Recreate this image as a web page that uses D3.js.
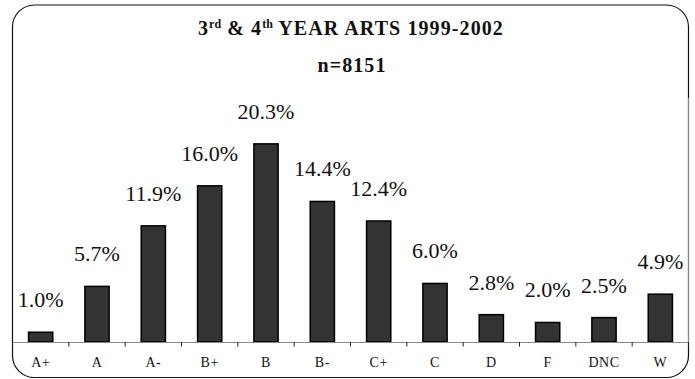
<!DOCTYPE html>
<html>
<head>
<meta charset="utf-8">
<script src="https://cdn.jsdelivr.net/npm/d3@7"></script>
<style>
  html, body { margin: 0; padding: 0; background: #fff; }
  svg { display: block; }
</style>
</head>
<body>
<svg id="chart" width="695" height="379"></svg>
<script>
// Grade distribution, 3rd & 4th year Arts, 1999-2002 (n=8151)
const grades = ["A+", "A", "A-", "B+", "B", "B-", "C+", "C", "D", "F", "DNC", "W"];
const percents = [1.0, 5.7, 11.9, 16.0, 20.3, 14.4, 12.4, 6.0, 2.8, 2.0, 2.5, 4.9];
const yDomain = [0, 25];

const data = grades.map((g, i) => ({ grade: g, value: percents[i] }));

const svg = d3.select("#chart");
const serif = '"Liberation Serif"';

// rounded frame around the whole chart
svg.append("rect")
  .attr("x", 12.5).attr("y", 5)
  .attr("width", 676).attr("height", 372.5)
  .attr("rx", 22).attr("ry", 22)
  .attr("fill", "#fff")
  .attr("stroke", "#111")
  .attr("stroke-width", 1.2);

// plot area
const plot = { left: 12.5, right: 688.5, top: 98, bottom: 342 };

const x = d3.scaleBand()
  .domain(grades)
  .range([plot.left, plot.right])
  .paddingInner(0.57)
  .paddingOuter(0.285);

const y = d3.scaleLinear()
  .domain(yDomain)
  .range([plot.bottom, plot.top]);

// plot area right edge
svg.append("line")
  .attr("x1", plot.right).attr("x2", plot.right)
  .attr("y1", plot.top).attr("y2", plot.bottom)
  .attr("stroke", "#888").attr("stroke-width", 1);

// title
const title = svg.append("text")
  .attr("x", 351).attr("y", 35)
  .attr("text-anchor", "middle")
  .style("font-family", serif)
  .style("font-weight", "bold")
  .style("font-size", "20px")
  .style("letter-spacing", "1.1px")
  .attr("fill", "#111");
title.append("tspan").text("3");
title.append("tspan").style("font-size", "12px").style("letter-spacing", "0px").attr("dy", -7).text("rd");
title.append("tspan").attr("dy", 7).text(" & 4");
title.append("tspan").style("font-size", "12px").style("letter-spacing", "0px").attr("dy", -7).text("th");
title.append("tspan").attr("dy", 7).text(" YEAR ARTS 1999-2002");

svg.append("text")
  .attr("x", 352).attr("y", 72)
  .attr("text-anchor", "middle")
  .style("font-family", serif)
  .style("font-weight", "bold")
  .style("font-size", "20px")
  .style("letter-spacing", "1.1px")
  .attr("fill", "#111")
  .text("n=8151");

// bars
svg.append("g")
  .selectAll("rect")
  .data(data)
  .join("rect")
  .attr("x", d => x(d.grade))
  .attr("y", d => y(d.value))
  .attr("width", x.bandwidth())
  .attr("height", d => y(0) - y(d.value))
  .attr("fill", "#333")
  .attr("stroke", "#000")
  .attr("stroke-width", 1.5);

// value labels
svg.append("g")
  .selectAll("text")
  .data(data)
  .join("text")
  .attr("x", d => x(d.grade) + x.bandwidth() / 2)
  .attr("y", d => y(d.value) - 25)
  .attr("text-anchor", "middle")
  .style("font-family", serif)
  .style("font-size", "22px")
  .attr("fill", "#111")
  .text(d => d.value.toFixed(1) + "%");

// category axis
const axis = svg.append("g")
  .attr("transform", `translate(0,${plot.bottom})`)
  .call(d3.axisBottom(x).tickSize(0).tickPadding(15));
axis.select(".domain").attr("stroke", "#888").attr("stroke-width", 1.2);
axis.selectAll("text")
  .style("font-family", serif)
  .style("font-size", "14px")
  .style("letter-spacing", "0.5px")
  .attr("fill", "#111");

// tick marks between categories
const step = x.step();
const boundaries = d3.range(grades.length + 1).map(i => plot.left + i * step);
axis.append("g")
  .selectAll("line")
  .data(boundaries)
  .join("line")
  .attr("x1", d => d).attr("x2", d => d)
  .attr("y1", 0).attr("y2", 4.5)
  .attr("stroke", "#222")
  .attr("stroke-width", 1);
</script>
</body>
</html>
